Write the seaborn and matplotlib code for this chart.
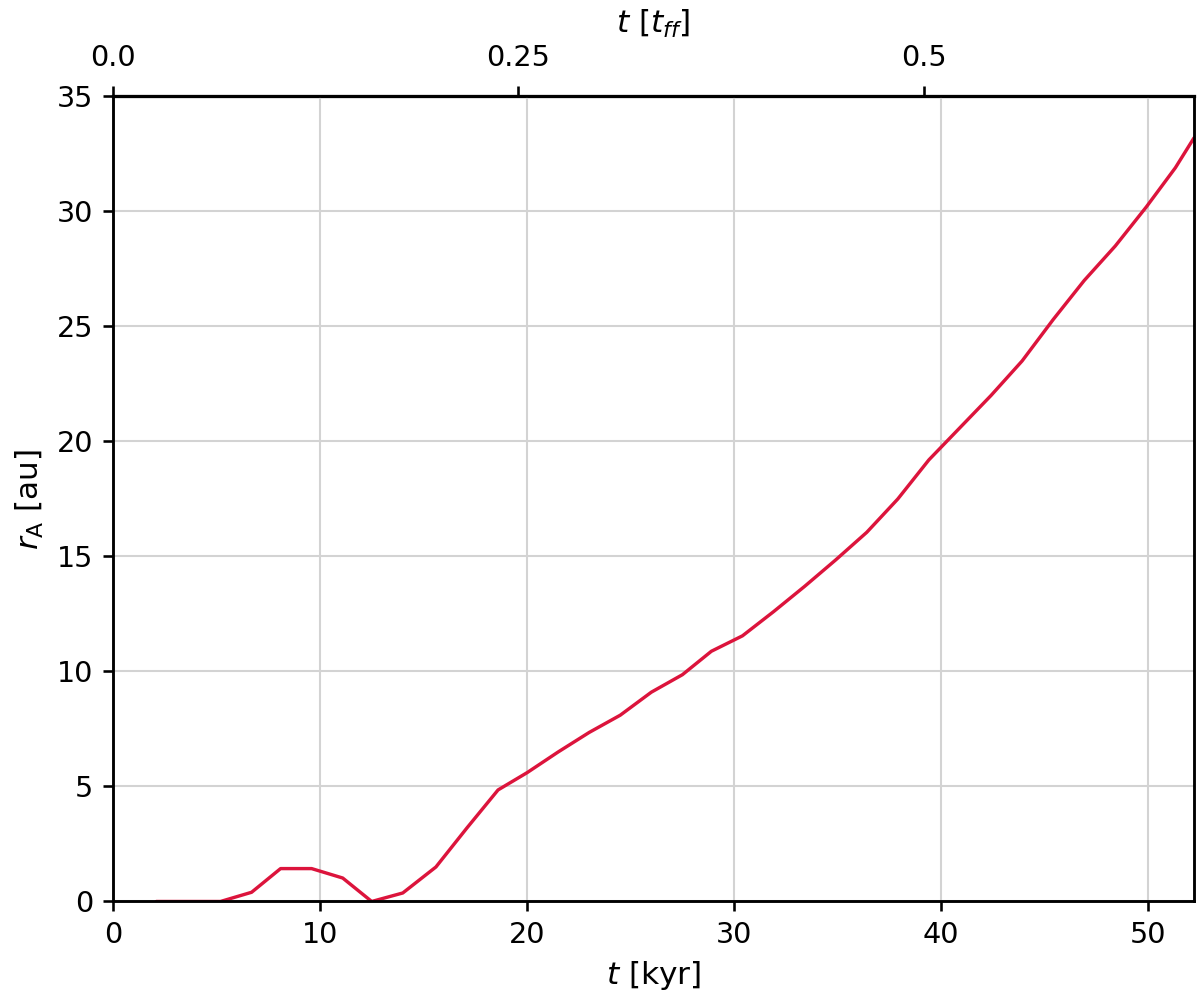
import numpy as np
import pandas as pd
import seaborn as sns
import matplotlib.pyplot as plt

# values
t_kyr = [2.1, 3.6, 5.2, 6.7, 8.1, 9.6, 11.1, 12.5, 14.0, 15.6, 17.1, 18.6,
         20.0, 21.5, 23.0, 24.5, 26.0, 27.5, 28.9, 30.4, 31.9, 33.4, 34.9,
         36.4, 37.9, 39.4, 40.9, 42.4, 43.9, 45.4, 46.9, 48.4, 49.9, 51.3, 52.2]
r_au = [0.0, 0.0, 0.0, 0.4, 1.43, 1.43, 1.02, 0.0, 0.37, 1.5, 3.2, 4.85,
        5.6, 6.5, 7.35, 8.1, 9.1, 9.86, 10.88, 11.55, 12.6, 13.7, 14.85,
        16.05, 17.5, 19.2, 20.6, 22.0, 23.5, 25.3, 27.0, 28.5, 30.2, 31.9, 33.2]
t_ff_kyr = 78.3
top_ticks = [0.0, 0.25, 0.5]
top_labels = ['0.0', '0.25', '0.5']

df = pd.DataFrame({'t': t_kyr, 'r': r_au})

sns.set_theme(style='whitegrid')
plt.rcParams['font.family'] = ['DejaVu Sans']
plt.rcParams['mathtext.fontset'] = 'dejavusans'

fig = plt.figure(figsize=(6.4, 5.36), dpi=187.5)
ax = fig.add_axes([0.094, 0.103, 0.901, 0.801])

sns.lineplot(data=df, x='t', y='r', color='#dc143c', lw=1.3,
             estimator=None, ax=ax)

ax.set_xlim(0, 52.2)
ax.set_ylim(0, 35)
ax.set_xticks([0, 10, 20, 30, 40, 50])
ax.set_yticks([0, 5, 10, 15, 20, 25, 30, 35])
ax.grid(True, color='#d3d3d3', lw=0.8)
for s in ax.spines.values():
    s.set_color('black')
    s.set_linewidth(1.1)
ax.tick_params(axis='both', which='major', direction='out', length=4,
               width=1, color='black', labelsize=11, bottom=True, left=True,
               labelcolor='black')
ax.set_xlabel(r'$t$ [kyr]', fontsize=12, color='black')
ax.set_ylabel(r'$r_\mathrm{A}$ [au]', fontsize=12, color='black')

# top axis in free-fall times
sec = ax.secondary_xaxis('top', functions=(lambda x: x / t_ff_kyr,
                                           lambda x: x * t_ff_kyr))
sec.set_xticks(top_ticks)
sec.set_xticklabels(top_labels)
sec.tick_params(direction='out', length=4, width=1, color='black',
                labelsize=11, labelcolor='black', pad=5.5)
sec.spines['top'].set_color('black')
sec.set_xlabel(r'$t$ [$t_{ff}$]', fontsize=12, color='black')

fig.savefig('out.png', dpi=187.5)
